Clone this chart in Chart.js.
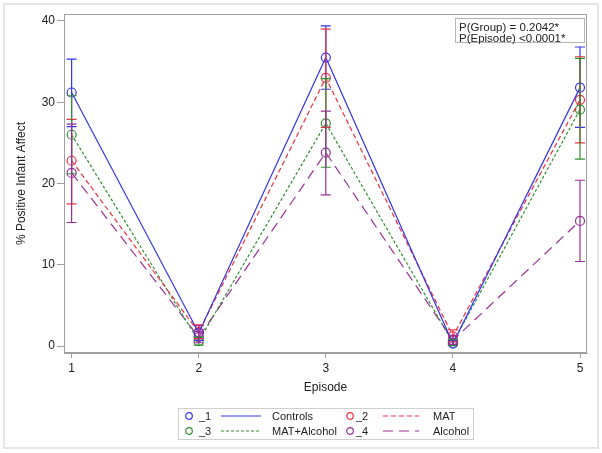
<!DOCTYPE html>
<html><head><meta charset="utf-8">
<script src="https://cdn.jsdelivr.net/npm/chart.js@4"></script>
<style>
body{margin:0;background:#fff;font-family:Arial,"Liberation Sans",sans-serif;color:#222}
#wrap{position:relative;width:602px;height:453px;overflow:hidden}
#frame{position:absolute;left:3px;top:3px;width:592px;height:442px;border:2px solid #e6e6e6;pointer-events:none}
canvas{position:absolute;left:0;top:0}
#note{position:absolute;left:455px;top:18px;width:128px;height:23px;border:1px solid #b4b4b4;background:#fff;font-size:11.5px}
#note div{position:absolute;left:3px;white-space:nowrap;line-height:12px}
#legend{position:absolute;left:178px;top:408px;width:294px;height:30px;border:1px solid #d0d0d0;font-size:11px}
#legend .it{position:absolute;white-space:nowrap;line-height:12px}
#legend svg{position:absolute}
</style></head>
<body>
<div id="wrap">
<canvas id="c" width="602" height="453"></canvas>
<div id="frame"></div>
<div id="note"><div style="top:2px">P(Group) = 0.2042*</div><div style="top:13px">P(Episode) &lt;0.0001*</div></div>
<div id="legend"></div>
</div>
<script>
const episodes = [1, 2, 3, 4, 5];
const yTicks = [0, 10, 20, 30, 40];
const groupNames = ['Controls', 'MAT', 'MAT+Alcohol', 'Alcohol'];
const markerLabels = ['_1', '_2', '_3', '_4'];
const controlsMean = [31.2, 1.6, 35.5, 0.3, 31.8];
const controlsLow  = [27.0, 0.7, 31.6, 0.1, 26.9];
const controlsHigh = [35.3, 2.5, 39.4, 0.6, 36.8];
const matMean = [22.8, 1.7, 33.0, 1.2, 30.3];
const matLow  = [17.5, 0.9, 26.9, 0.5, 25.0];
const matHigh = [27.9, 2.6, 39.0, 2.0, 35.6];
const matAlcMean = [26.0, 0.6, 27.4, 0.4, 29.1];
const matAlcLow  = [21.2, 0.1, 22.0, 0.1, 23.0];
const matAlcHigh = [30.8, 1.1, 32.9, 0.8, 35.4];
const alcMean = [21.3, 1.1, 23.8, 0.7, 15.4];
const alcLow  = [15.2, 0.4, 18.6, 0.2, 10.4];
const alcHigh = [27.3, 1.8, 28.9, 1.3, 20.4];

const colors = ['#3434ee', '#ee3040', '#2f922f', '#9a2e9a'];
const dashes = [[], [5, 3], [3, 2], [10, 6]];
const means = [controlsMean, matMean, matAlcMean, alcMean];
const lows = [controlsLow, matLow, matAlcLow, alcLow];
const highs = [controlsHigh, matHigh, matAlcHigh, alcHigh];

const datasets = means.map((m, i) => ({
  label: groupNames[i],
  data: episodes.map((e, j) => ({x: e, y: m[j]})),
  borderColor: colors[i],
  borderWidth: 1.2,
  borderDash: dashes[i],
  pointRadius: 4.5,
  pointBorderWidth: 1.2,
  pointBorderColor: colors[i],
  pointBackgroundColor: 'rgba(0,0,0,0)',
  tension: 0,
  fill: false
}));

const errorBars = {
  id: 'errorBars',
  afterDatasetsDraw(chart) {
    const {ctx, scales: {x, y}} = chart;
    ctx.save();
    ctx.lineWidth = 1.2;
    for (let i = 0; i < 4; i++) {
      ctx.strokeStyle = colors[i];
      episodes.forEach((e, j) => {
        const px = x.getPixelForValue(e);
        const lo = y.getPixelForValue(lows[i][j]);
        const hi = y.getPixelForValue(highs[i][j]);
        ctx.beginPath();
        ctx.moveTo(px, lo); ctx.lineTo(px, hi);
        ctx.moveTo(px - 5, lo); ctx.lineTo(px + 5, lo);
        ctx.moveTo(px - 5, hi); ctx.lineTo(px + 5, hi);
        ctx.stroke();
      });
    }
    ctx.restore();
  }
};
const frame = {
  id: 'plotFrame',
  afterDraw(chart) {
    const a = chart.chartArea, ctx = chart.ctx;
    ctx.save();
    ctx.strokeStyle = '#a0a0a0';
    ctx.lineWidth = 1;
    ctx.strokeRect(Math.round(a.left) + 0.5, Math.round(a.top) + 0.5, Math.round(a.right - a.left) - 1, Math.round(a.bottom - a.top) - 1);
    ctx.restore();
  }
};

new Chart(document.getElementById('c'), {
  type: 'line',
  data: {datasets},
  plugins: [errorBars, frame],
  options: {
    responsive: false,
    animation: false,
    events: [],
    layout: {padding: {top: 14, right: 15, left: 0, bottom: 58}},
    plugins: {legend: {display: false}, tooltip: {enabled: false}},
    scales: {
      x: {
        type: 'linear', min: 0.94, max: 5.055,
        afterBuildTicks: s => { s.ticks = episodes.map(v => ({value: v})); },
        afterFit: s => { s.height = 42; },
        grid: {drawOnChartArea: false, tickLength: 5, color: '#a0a0a0'},
        border: {color: '#a0a0a0'},
        ticks: {font: {family: 'Arial', size: 12}, color: '#222', padding: 3, maxRotation: 0, callback: v => String(v)},
        title: {display: true, text: 'Episode', font: {family: 'Arial', size: 12}, color: '#222', padding: {top: 0, bottom: 0}}
      },
      y: {
        type: 'linear', min: -0.86, max: 40.86,
        afterBuildTicks: s => { s.ticks = yTicks.map(v => ({value: v})); },
        afterFit: s => { s.width = 64; },
        grid: {drawOnChartArea: false, tickLength: 7, color: '#a0a0a0'},
        border: {color: '#a0a0a0'},
        ticks: {font: {family: 'Arial', size: 12}, color: '#222', padding: 2, callback: v => String(v)},
        title: {display: true, text: '% Positive Infant Affect', font: {family: 'Arial', size: 12}, color: '#222', padding: {top: 14, bottom: 0}}
      }
    }
  }
});

// legend
const lg = document.getElementById('legend');
const cols = [{cx: 10, lab: 20, l1: 42, l2: 82, name: 93}, {cx: 171, lab: 177, l1: 204, l2: 240, name: 254}];
const rowsY = [7, 22];
for (let i = 0; i < 4; i++) {
  const c = cols[i % 2], ry = rowsY[Math.floor(i / 2)];
  const ns = 'http://www.w3.org/2000/svg';
  const s1 = document.createElementNS(ns, 'svg');
  s1.setAttribute('width', 10); s1.setAttribute('height', 10);
  s1.style.left = (c.cx - 5) + 'px'; s1.style.top = (ry - 5) + 'px';
  const ci = document.createElementNS(ns, 'circle');
  ci.setAttribute('cx', 5); ci.setAttribute('cy', 5); ci.setAttribute('r', 3.3);
  ci.setAttribute('fill', 'none'); ci.setAttribute('stroke', colors[i]); ci.setAttribute('stroke-width', 1.2);
  s1.appendChild(ci); lg.appendChild(s1);
  const t1 = document.createElement('div');
  t1.className = 'it'; t1.textContent = markerLabels[i];
  t1.style.left = c.lab + 'px'; t1.style.top = (ry - 6) + 'px';
  lg.appendChild(t1);
  const s2 = document.createElementNS(ns, 'svg');
  s2.setAttribute('width', c.l2 - c.l1); s2.setAttribute('height', 4);
  s2.style.left = c.l1 + 'px'; s2.style.top = (ry - 2) + 'px';
  const ln = document.createElementNS(ns, 'line');
  ln.setAttribute('x1', 0); ln.setAttribute('x2', c.l2 - c.l1); ln.setAttribute('y1', 2); ln.setAttribute('y2', 2);
  ln.setAttribute('stroke', colors[i]); ln.setAttribute('stroke-width', 1.2);
  if (dashes[i].length) ln.setAttribute('stroke-dasharray', dashes[i].join(' '));
  s2.appendChild(ln); lg.appendChild(s2);
  const t2 = document.createElement('div');
  t2.className = 'it'; t2.textContent = groupNames[i];
  t2.style.left = c.name + 'px'; t2.style.top = (ry - 6) + 'px';
  lg.appendChild(t2);
}
</script>
</body></html>
